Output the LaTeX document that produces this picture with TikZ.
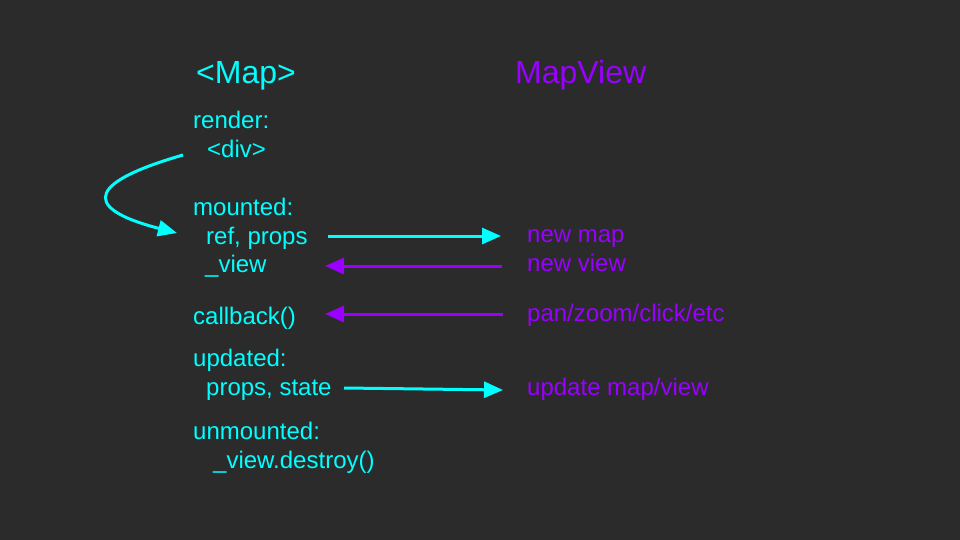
\documentclass[tikz,border=0pt]{standalone}
\usepackage{fontspec}
\setmainfont{Liberation Sans}
\usetikzlibrary{arrows.meta}
\definecolor{bg}{HTML}{2B2B2B}
\definecolor{cy}{HTML}{00FFFF}
\definecolor{pu}{HTML}{9900FF}
\tikzset{
  lbl/.style={anchor=base west, inner sep=0pt, font=\fontsize{24}{28}\selectfont},
  ttl/.style={anchor=base west, inner sep=0pt, font=\fontsize{32}{38}\selectfont},
  arr/.style={line width=3pt, -{Triangle[length=19pt,width=16pt]}},
}
\begin{document}
\begin{tikzpicture}[x=1pt,y=-1pt]
\fill[bg] (0,0) rectangle (960,540);
\useasboundingbox (0,0) rectangle (960,540);
% titles
\node[ttl, text=cy] (map) at (196,84) {<Map>};
\node[ttl, text=pu] (mapview) at (515,84) {MapView};
% left column
\node[lbl, text=cy] (render) at (193,129) {render:};
\node[lbl, text=cy] (div) at (207,158) {<div>};
\node[lbl, text=cy] (mounted) at (193,215) {mounted:};
\node[lbl, text=cy] (refprops) at (206,244) {ref, props};
\node[lbl, text=cy] (view) at (205,272) {\_view};
\node[lbl, text=cy] (callback) at (193,324) {callback()};
\node[lbl, text=cy] (updated) at (193,366) {updated:};
\node[lbl, text=cy] (propsstate) at (206,395) {props, state};
\node[lbl, text=cy] (unmounted) at (193,439) {unmounted:};
\node[lbl, text=cy] (destroy) at (213,468) {\_view.destroy()};
% right column
\node[lbl, text=pu] (newmap) at (527,242) {new map};
\node[lbl, text=pu] (newview) at (527,271) {new view};
\node[lbl, text=pu] (pan) at (527,321) {pan/zoom/click/etc};
\node[lbl, text=pu] (update) at (527,395) {update map/view};
% connector end points
\coordinate (cs) at (183,155);
\coordinate (ce) at (177,233);
\coordinate (a1s) at (328,236);
\coordinate (a1e) at (501,236);
\coordinate (a2s) at (502,266);
\coordinate (a2e) at (325,266);
\coordinate (a3s) at (503,314);
\coordinate (a3e) at (325,314);
\coordinate (a4s) at (344,388);
\coordinate (a4e) at (503,390);
% connectors
\draw[arr, cy] (cs) .. controls (72,187) and (95,212) .. (ce);
\draw[arr, cy] (a1s) -- (a1e);
\draw[arr, pu] (a2s) -- (a2e);
\draw[arr, pu] (a3s) -- (a3e);
\draw[arr, cy] (a4s) -- (a4e);
\end{tikzpicture}
\end{document}
